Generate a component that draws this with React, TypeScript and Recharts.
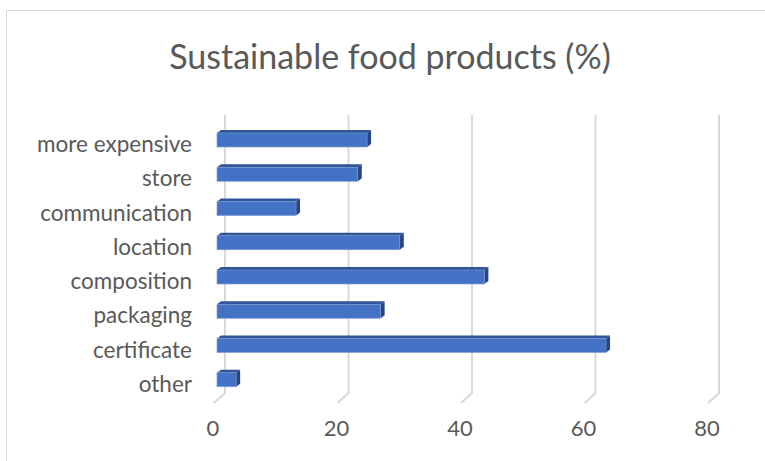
import React from "react"
import { Bar, BarChart, CartesianGrid, XAxis, YAxis } from "recharts"

const categories = [
  "more expensive",
  "store",
  "communication",
  "location",
  "composition",
  "packaging",
  "certificate",
  "other",
]
const shares = [24.3, 22.8, 12.8, 29.6, 43.3, 26.5, 63, 3.1]
const xTicks = [0, 20, 40, 60, 80]

const data = categories.map((name, i) => ({ name, value: shares[i] }))

const FONT = "Lato, 'Open Sans', sans-serif"
const TEXT = "#595959"

// fake 3d bar: front face plus top and side faces
function Bar3D(props: any) {
  const { x, y, width, height } = props
  if (width == null || width <= 0) return null
  const dx = 4
  const dy = 3
  return (
    <g>
      <polygon
        points={`${x},${y} ${x + dx},${y - dy} ${x + width + dx},${y - dy} ${x + width},${y}`}
        fill="#2F5597"
      />
      <polygon
        points={`${x + width},${y} ${x + width + dx},${y - dy} ${x + width + dx},${y + height - dy} ${x + width},${y + height}`}
        fill="#27467F"
      />
      <rect x={x} y={y} width={width} height={height} fill="#4472C4" stroke="#7A9AD6" strokeWidth={0.6} />
    </g>
  )
}

function GridLine3D(props: any) {
  const { x1, y1, y2 } = props
  return (
    <path
      key={`g-${x1}`}
      d={`M${x1 + 8},${y1 - 8} L${x1 + 8},${y2 - 4} L${x1 - 3},${y2 + 6}`}
      fill="none"
      stroke="#D9D9D9"
      strokeWidth={2}
    />
  )
}

function CategoryTick(props: any) {
  const { x, y, payload } = props
  return (
    <text x={x} y={y} dy={12} textAnchor="end" fill={TEXT} fontSize={22.5} fontFamily={FONT}>
      {payload.value}
    </text>
  )
}

function ValueTick(props: any) {
  const { x, y, payload } = props
  return (
    <text x={x - 4} y={y} dy={17} textAnchor="middle" fill={TEXT} fontSize={22} fontFamily={FONT}>
      {payload.value}
    </text>
  )
}

export default function App() {
  return (
    <div
      style={{
        position: "absolute",
        left: 0,
        top: 0,
        width: 765,
        height: 461,
        overflow: "hidden",
        background: "#fff",
      }}
    >
      <div
        style={{
          position: "absolute",
          left: 6,
          top: 10,
          width: 800,
          height: 500,
          borderTop: "1px solid #D9D9D9",
          borderLeft: "1px solid #D9D9D9",
        }}
      />
      <div
        style={{
          position: "absolute",
          left: 0,
          width: 780,
          top: 36,
          textAlign: "center",
          fontFamily: FONT,
          fontSize: 34,
          color: TEXT,
          lineHeight: "40px",
        }}
      >
        Sustainable food products (%)
      </div>
      <div style={{ position: "absolute", left: 0, top: 0 }}>
        <BarChart
          width={765}
          height={461}
          data={data}
          layout="vertical"
          margin={{ top: 123, right: 54, bottom: 34, left: 0 }}
        >
          <CartesianGrid horizontal={false} vertical={GridLine3D} />
          <XAxis
            type="number"
            domain={[0, 80]}
            ticks={xTicks}
            axisLine={false}
            tickLine={false}
            tickSize={0}
            tickMargin={22}
            height={30}
            tick={<ValueTick />}
          />
          <YAxis
            type="category"
            dataKey="name"
            width={217}
            axisLine={false}
            tickLine={false}
            tickSize={0}
            tickMargin={25}
            tick={<CategoryTick />}
          />
          <Bar dataKey="value" barSize={14} shape={<Bar3D />} isAnimationActive={false} />
        </BarChart>
      </div>
    </div>
  )
}
